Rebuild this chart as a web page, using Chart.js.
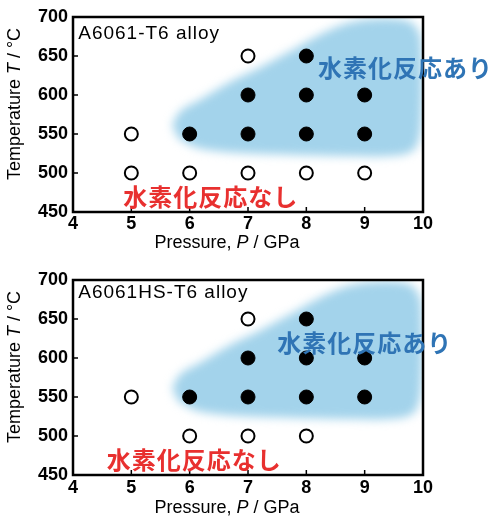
<!DOCTYPE html>
<html>
<head>
<meta charset="utf-8">
<script src="https://cdn.jsdelivr.net/npm/chart.js@4.4.1/dist/chart.umd.min.js"></script>
<style>
  body { margin: 0; background: #fff; }
  .panel { position: absolute; left: 0; width: 496px; height: 259px; }
</style>
</head>
<body>
<div class="panel" style="top:0"><canvas id="chartT6" width="496" height="259"></canvas></div>
<div class="panel" style="top:259px"><canvas id="chartHS" width="496" height="259"></canvas></div>
<script>
// axis ranges / ticks
const pressureTicks = [4, 5, 6, 7, 8, 9, 10];
const temperatureTicks = [450, 500, 550, 600, 650, 700];

// [P (GPa), T (°C)] -- open circles = no hydride, filled = hydride formed
const t6NoReaction = [[5, 550], [5, 500], [6, 500], [7, 650], [7, 500], [8, 500], [9, 500]];
const t6Reaction = [[6, 550], [7, 600], [7, 550], [8, 650], [8, 600], [8, 550], [9, 600], [9, 550]];
const hsNoReaction = [[5, 550], [6, 500], [7, 650], [7, 500], [8, 500]];
const hsReaction = [[6, 550], [7, 600], [7, 550], [8, 650], [8, 600], [8, 550], [9, 600], [9, 550]];

// outline of the shaded "reaction" region
const regionP = [5.70, 5.85, 6.2, 6.7, 7.2, 7.7, 8.2, 8.7, 9.3, 9.8, 9.97, 9.97, 9.85, 9.5, 8.5, 7.5, 6.6, 6.1, 5.8];
const regionT = [562, 580, 595, 617, 635, 655, 676, 692, 698, 693, 670, 560, 530, 522, 522, 524, 527, 533, 545];

const textYes = "水素化反応あり";
const textNo = "水素化反応なし";

const toXY = arr => arr.map(d => ({ x: d[0], y: d[1] }));

function drawMixed(ctx, parts, cx, cy) {
  let total = 0;
  parts.forEach(p => { ctx.font = p[1]; total += ctx.measureText(p[0]).width; });
  let x = cx - total / 2;
  parts.forEach(p => {
    ctx.font = p[1];
    ctx.fillText(p[0], x, cy);
    x += ctx.measureText(p[0]).width;
  });
}

function makeChart(id, alloy, noReaction, reaction, opts) {
  const softRegion = {
    id: "softRegion",
    beforeDatasetsDraw(chart) {
      chart.ctx.save();
      chart.ctx.filter = "blur(5px)";
    },
    afterDatasetDraw(chart, args) {
      if (args.index === 0) chart.ctx.restore();
    }
  };

  const frame = {
    id: "frame",
    afterDraw(chart) {
      const { ctx, chartArea: a, scales: { x, y } } = chart;
      ctx.save();
      ctx.strokeStyle = "#000";
      ctx.lineWidth = 2.5;
      ctx.strokeRect(a.left, a.top, a.right - a.left, a.bottom - a.top);
      ctx.lineWidth = 1.5;
      ctx.beginPath();
      x.ticks.forEach(t => {
        const px = x.getPixelForValue(t.value);
        ctx.moveTo(px, a.bottom);
        ctx.lineTo(px, a.bottom - 5);
      });
      y.ticks.forEach(t => {
        const py = y.getPixelForValue(t.value);
        ctx.moveTo(a.left, py);
        ctx.lineTo(a.left + 5, py);
      });
      ctx.stroke();

      // axis titles
      ctx.fillStyle = "#000";
      ctx.textBaseline = "middle";
      ctx.textAlign = "left";
      const n = '18px "Liberation Sans", Arial, sans-serif';
      const it = 'italic 18px "Liberation Sans", Arial, sans-serif';
      drawMixed(ctx, [["Pressure, ", n], ["P", it], [" / GPa", n]], a.left + 154, a.bottom + opts.xTitleGap);
      ctx.save();
      ctx.translate(15, a.top + 87);
      ctx.rotate(-Math.PI / 2);
      drawMixed(ctx, [["Temperature ", n], ["T", it], [" / °C", n]], 0, 0);
      ctx.restore();

      // labels inside the plot
      ctx.textAlign = "left";
      ctx.letterSpacing = "1px";
      ctx.font = '19px "Liberation Sans", Arial, sans-serif';
      ctx.fillText(alloy, x.getPixelForValue(opts.alloyAt[0]), y.getPixelForValue(opts.alloyAt[1]));
      ctx.font = 'bold 24px "Noto Sans CJK JP", sans-serif';
      ctx.fillStyle = "#2f74b5";
      ctx.fillText(textYes, x.getPixelForValue(opts.yesAt[0]), y.getPixelForValue(opts.yesAt[1]));
      ctx.fillStyle = "#e8302f";
      ctx.fillText(textNo, x.getPixelForValue(opts.noAt[0]), y.getPixelForValue(opts.noAt[1]));
      ctx.restore();
    }
  };

  const tickFont = { family: '"Liberation Sans", Arial, sans-serif', size: 18, weight: "bold" };

  return new Chart(document.getElementById(id), {
    type: "scatter",
    data: {
      datasets: [
        {
          type: "line",
          data: regionP.map((p, i) => ({ x: p, y: regionT[i] })),
          fill: "shape",
          backgroundColor: "rgb(163, 211, 235)",
          borderWidth: 0,
          pointRadius: 0,
          tension: 0.3,
          order: 1
        },
        {
          data: toXY(noReaction),
          pointRadius: 6.5,
          pointBackgroundColor: "#fff",
          pointBorderColor: "#000",
          pointBorderWidth: 2,
          order: 0
        },
        {
          data: toXY(reaction),
          pointRadius: 7,
          pointBackgroundColor: "#000",
          pointBorderColor: "#000",
          pointBorderWidth: 1,
          order: 0
        }
      ]
    },
    options: {
      responsive: false,
      animation: false,
      events: [],
      layout: { padding: { top: opts.top, right: 73, left: 0, bottom: 0 } },
      plugins: { legend: { display: false }, tooltip: { enabled: false } },
      scales: {
        x: {
          type: "linear",
          min: pressureTicks[0],
          max: pressureTicks[pressureTicks.length - 1],
          afterBuildTicks: s => { s.ticks = pressureTicks.map(v => ({ value: v })); },
          afterFit: s => { s.height = opts.xHeight; },
          grid: { display: false, drawTicks: false },
          border: { display: false },
          ticks: { padding: opts.xPad, color: "#000", font: tickFont }
        },
        y: {
          type: "linear",
          min: temperatureTicks[0],
          max: temperatureTicks[temperatureTicks.length - 1],
          afterBuildTicks: s => { s.ticks = temperatureTicks.map(v => ({ value: v })); },
          afterFit: s => { s.width = 73; },
          grid: { display: false, drawTicks: false },
          border: { display: false },
          ticks: { padding: 5, color: "#000", font: tickFont }
        }
      }
    },
    plugins: [softRegion, frame]
  });
}

makeChart("chartT6", "A6061-T6 alloy", t6NoReaction, t6Reaction, {
  top: 17, xHeight: 47, xPad: 1, xTitleGap: 31,
  alloyAt: [4.09, 679], yesAt: [8.2, 635], noAt: [4.86, 469]
});
makeChart("chartHS", "A6061HS-T6 alloy", hsNoReaction, hsReaction, {
  top: 21, xHeight: 43, xPad: 2, xTitleGap: 33,
  alloyAt: [4.09, 683], yesAt: [7.5, 619], noAt: [4.58, 469]
});
</script>
</body>
</html>
